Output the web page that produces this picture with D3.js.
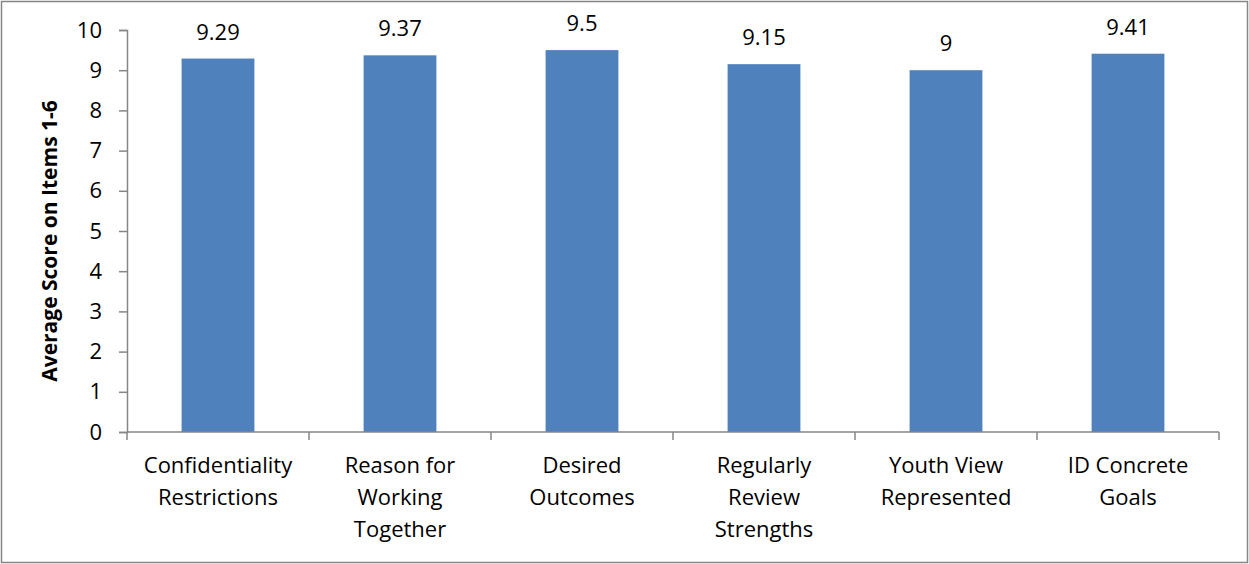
<!DOCTYPE html>
<html>
<head>
<meta charset="utf-8">
<script src="https://cdn.jsdelivr.net/npm/d3@7"></script>
<style>
  html, body { margin: 0; padding: 0; background: #fff; }
  svg { display: block; }
  text { font-family: "Open Sans", sans-serif; fill: #000; }
</style>
</head>
<body>
<svg id="chart" width="1249" height="564"></svg>
<script>
// Category labels (each entry split into wrapped lines)
const categories = [
  ["Confidentiality", "Restrictions"],
  ["Reason for", "Working", "Together"],
  ["Desired", "Outcomes"],
  ["Regularly", "Review", "Strengths"],
  ["Youth View", "Represented"],
  ["ID Concrete", "Goals"]
];
const scores = [9.29, 9.37, 9.5, 9.15, 9, 9.41];
const yTicks = [0, 1, 2, 3, 4, 5, 6, 7, 8, 9, 10];
const yTitle = "Average Score on Items 1-6";

const svg = d3.select("#chart");
const W = 1249, H = 564;
const margin = { left: 127, right: 30, top: 30, bottom: 132 };
const FONT = "'Open Sans', sans-serif";
const FS = 22;

// outer frame
svg.append("rect")
  .attr("x", 1.5).attr("y", 1.5)
  .attr("width", W - 3).attr("height", H - 3)
  .attr("fill", "#fff").attr("stroke", "#868686").attr("stroke-width", 1.5);

const keys = categories.map((c, i) => i);
const x = d3.scaleBand()
  .domain(keys)
  .range([margin.left, W - margin.right])
  .paddingInner(0.6)
  .paddingOuter(0.3);

const y = d3.scaleLinear()
  .domain([0, 10])
  .range([H - margin.bottom, margin.top]);

const axisColor = "#868686";

// bars
svg.append("g").selectAll("rect")
  .data(scores)
  .join("rect")
  .attr("x", (d, i) => x(i))
  .attr("y", d => y(d))
  .attr("width", x.bandwidth())
  .attr("height", d => y(0) - y(d))
  .attr("fill", "#4f81bd");

// value labels
svg.append("g").selectAll("text")
  .data(scores)
  .join("text")
  .attr("x", (d, i) => x(i) + x.bandwidth() / 2)
  .attr("y", d => y(d) - 19)
  .attr("text-anchor", "middle")
  .attr("font-size", FS)
  .text(d => d);

// y axis
const yAxis = svg.append("g")
  .attr("transform", `translate(${margin.left},0)`)
  .call(d3.axisLeft(y).tickValues(yTicks).tickSize(8).tickPadding(17).tickFormat(d3.format("d")));
yAxis.select(".domain").attr("stroke", axisColor).attr("stroke-width", 1.5);
yAxis.selectAll(".tick line").attr("stroke", axisColor).attr("stroke-width", 1.5);
yAxis.selectAll(".tick text")
  .attr("font-size", FS)
  .attr("font-family", FONT)
  .attr("fill", "#000");

// x axis: baseline with ticks at category boundaries
const step = x.step();
const x0 = margin.left, x1 = W - margin.right;
const base = y(0);
const xAxis = svg.append("g");
xAxis.append("line")
  .attr("x1", x0).attr("x2", x1)
  .attr("y1", base).attr("y2", base)
  .attr("stroke", axisColor).attr("stroke-width", 1.5);
const boundaries = keys.map(i => x(i) - (step - x.bandwidth()) / 2).concat([x1]);
xAxis.selectAll("line.tk")
  .data(boundaries)
  .join("line")
  .attr("class", "tk")
  .attr("x1", d => d).attr("x2", d => d)
  .attr("y1", base).attr("y2", base + 8)
  .attr("stroke", axisColor).attr("stroke-width", 1.5);

// category labels
const lab = svg.append("g").selectAll("text")
  .data(categories)
  .join("text")
  .attr("text-anchor", "middle")
  .attr("font-size", FS)
  .attr("transform", (d, i) => `translate(${x(i) + x.bandwidth() / 2},${base + 41})`);
lab.selectAll("tspan")
  .data(d => d)
  .join("tspan")
  .attr("x", 0)
  .attr("y", (d, j) => j * 32)
  .text(d => d);

// y axis title
svg.append("text")
  .attr("transform", `translate(57,${(y(0) + y(10)) / 2 + 10}) rotate(-90)`)
  .attr("text-anchor", "middle")
  .attr("font-size", 21)
  .attr("font-weight", "bold")
  .text(yTitle);
</script>
</body>
</html>
